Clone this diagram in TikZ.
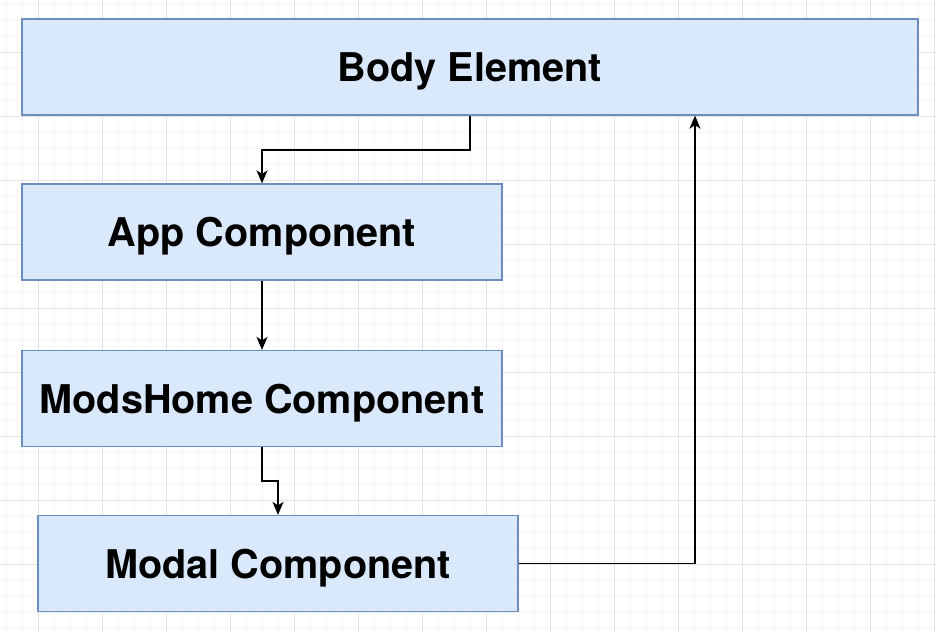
\documentclass[tikz,border=0pt]{standalone}
\usepackage{fontspec}
\setmainfont{TeX Gyre Heros}
\usetikzlibrary{arrows.meta}
\definecolor{boxfill}{HTML}{DAE8FC}
\definecolor{boxdraw}{HTML}{6C8EBF}
\definecolor{gridmajor}{HTML}{E4E4E4}
\definecolor{gridminor}{HTML}{F5F5F5}
\tikzset{
  compbox/.style={draw=boxdraw, fill=boxfill, line width=1.3pt, inner sep=0pt,
    minimum height=96pt, text height=29pt, text depth=0pt,
    font=\fontsize{39.6}{42}\selectfont\bfseries},
  conn/.style={line width=1.4pt, draw=black, -{Stealth[length=13pt,width=11pt,inset=3.5pt]}}
}
\begin{document}
\begin{tikzpicture}[x=1pt,y=-1pt]
\useasboundingbox (0,0) rectangle (936,632);
\fill[white] (0,0) rectangle (936,632);
% minor grid
\foreach \i in {0,...,58} {\draw[gridminor, line width=1pt] ({6+16*\i},0) -- ({6+16*\i},632);}
\foreach \j in {0,...,39} {\draw[gridminor, line width=1pt] (0,{4+16*\j}) -- (936,{4+16*\j});}
% major grid
\foreach \i in {0,...,14} {\draw[gridmajor, line width=1pt] ({38+64*\i},0) -- ({38+64*\i},632);}
\foreach \j in {0,...,9} {\draw[gridmajor, line width=1pt] (0,{-12+64*\j}) -- (936,{-12+64*\j});}
% boxes
\node[compbox, minimum width=896pt] (body) at (470,67) {Body Element};
\node[compbox, minimum width=480pt] (app) at (262,232) {App Component};
\node[compbox, minimum width=480pt] (mods) at (262,398.5) {ModsHome Component};
\node[compbox, minimum width=480pt] (modal) at (278,563.5) {Modal Component};
% helper coordinates
\coordinate (j1) at (0,150);
\coordinate (j3) at (0,481);
\coordinate (up) at (695,0);
% connectors
\draw[conn] (body.south) -- (body.south |- j1) -| (app.north);
\draw[conn] (app.south) -- (mods.north);
\draw[conn] (mods.south) -- (mods.south |- j3) -| (modal.north);
\draw[conn] (modal.east) -| (up |- body.south);
\end{tikzpicture}
\end{document}
